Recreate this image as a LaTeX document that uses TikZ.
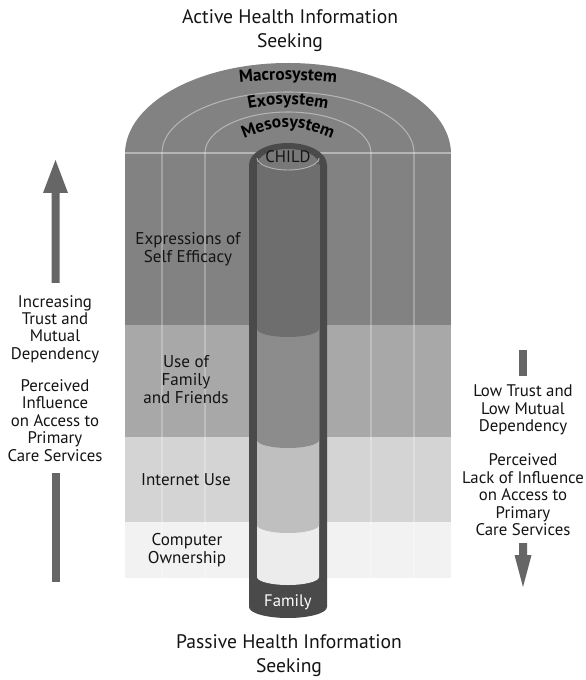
\documentclass[tikz,border=0pt]{standalone}
\usepackage{fontspec}
\setmainfont{PT Sans}
\usetikzlibrary{decorations.text}
\definecolor{bandA}{gray}{0.51}
\definecolor{bandB}{gray}{0.66}
\definecolor{bandC}{gray}{0.83}
\definecolor{bandD}{gray}{0.95}
\definecolor{tubeC}{gray}{0.29}
\definecolor{segA}{gray}{0.43}
\definecolor{segB}{gray}{0.55}
\definecolor{segC}{gray}{0.75}
\definecolor{segD}{gray}{0.925}
\definecolor{childC}{gray}{0.47}
\definecolor{arrowC}{gray}{0.40}
\definecolor{txtC}{gray}{0.08}
\tikzset{
  ringline/.style={draw=white, draw opacity=0.4, line width=0.8pt},
  bandlabel/.style={align=center, text=txtC, font=\fontsize{12.8}{13.5}\selectfont, inner sep=0pt},
  sidelabel/.style={align=center, text=txtC, font=\fontsize{12.6}{13.1}\selectfont, inner sep=0pt},
  titlelabel/.style={align=center, text=txtC, font=\fontsize{14.7}{18}\selectfont, inner sep=0pt},
}
\begin{document}
\begin{tikzpicture}[x=0.75pt,y=-0.75pt]
\useasboundingbox (0,0) rectangle (585,680);
\fill[white] (0,0) rectangle (585,680);
% bands
\fill[bandA] (125,153) rectangle (451,325);
\fill[bandB] (125,325) rectangle (451,437);
\fill[bandC] (125,437) rectangle (451,522);
\fill[bandD] (125,522) rectangle (451,578);
% dome
\fill[bandA] (125,154) arc[start angle=180,end angle=360,x radius=163,y radius=91] -- cycle;
% ring lines
\draw[ringline] (162,578) -- (162,153) arc[start angle=180,end angle=360,x radius=126,y radius=61] -- (414,578);
\draw[ringline] (205,578) -- (205,153) arc[start angle=180,end angle=360,x radius=83,y radius=41] -- (371,578);
\draw[ringline] (125,153) -- (451,153);
% tube outer
\fill[tubeC] (249,165) arc[start angle=180,end angle=360,x radius=39,y radius=22] -- (327,607) arc[start angle=0,end angle=180,x radius=39,y radius=11] -- cycle;
% inner segments
\fill[segD] (257,165) -- (257,577) arc[start angle=180,end angle=0,x radius=31,y radius=8] -- (319,165) -- cycle;
\fill[segC] (257,165) -- (257,525) arc[start angle=180,end angle=0,x radius=31,y radius=8] -- (319,165) -- cycle;
\fill[segB] (257,165) -- (257,440) arc[start angle=180,end angle=0,x radius=31,y radius=8] -- (319,165) -- cycle;
\fill[segA] (257,165) -- (257,329) arc[start angle=180,end angle=0,x radius=31,y radius=8] -- (319,165) -- cycle;
% child cap
\fill[childC] (257,165) arc[start angle=180,end angle=360,x radius=31,y radius=16] -- (319,158) arc[start angle=0,end angle=180,x radius=31,y radius=12] -- cycle;
\draw[gray!60!white, line width=0.7pt] (319,158) arc[start angle=0,end angle=180,x radius=31,y radius=12];
\node[font=\fontsize{12.5}{13}\selectfont, text=txtC, inner sep=0pt] (child) at (288,157) {CHILD};
\node[font=\fontsize{12.5}{13}\selectfont, text=white, inner sep=0pt] (family) at (288,602) {Family};
% ring labels
\path[decorate, decoration={text along path, text align=center, text={|\fontsize{13}{14}\bfseries\selectfont|Macrosystem}}]
  (208,86) .. controls (288,78) .. (368,86);
\path[decorate, decoration={text along path, text align=center, text={|\fontsize{13}{14}\bfseries\selectfont|Exosystem}}]
  (220,114.5) .. controls (288,101) .. (356,114.5);
\path[decorate, decoration={text along path, text align=center, text={|\fontsize{13}{14}\bfseries\selectfont|Mesosystem}}]
  (216,150.5) .. controls (288,119.5) .. (360,150.5);
% band labels
\node[bandlabel] (l1) at (188,249) {Expressions of\\Self Efficacy};
\node[bandlabel] (l2) at (186,380) {Use of\\Family\\and Friends};
\node[bandlabel] (l3) at (186,480) {Internet Use};
\node[bandlabel] (l4) at (187,550) {Computer\\Ownership};
% titles
\node[titlelabel] (top) at (290,31) {Active Health Information\\Seeking};
\node[titlelabel] (bot) at (289,656) {Passive Health Information\\Seeking};
% left arrow
\fill[arrowC] (51.5,283) -- (51.5,193) -- (43,193) -- (55.5,160) -- (68,193) -- (59.5,193) -- (59.5,283) -- cycle;
\fill[arrowC] (51.5,473) rectangle (59.5,582);
\node[sidelabel] (lt1) at (55,329) {Increasing\\Trust and\\Mutual\\Dependency};
\node[sidelabel] (lt2) at (55,420.5) {Perceived\\Influence\\on Access to\\Primary\\Care Services};
% right arrow
\fill[arrowC] (519,350) rectangle (527,376);
\fill[arrowC] (519,543) -- (519,555) -- (514.5,555) -- (523,587) -- (531.5,555) -- (527,555) -- (527,543) -- cycle;
\node[sidelabel] (rt1) at (523,410) {Low Trust and\\Low Mutual\\Dependency};
\node[sidelabel] (rt2) at (523,495) {Perceived\\Lack of Influence\\on Access to\\Primary\\Care Services};
\end{tikzpicture}
\end{document}
